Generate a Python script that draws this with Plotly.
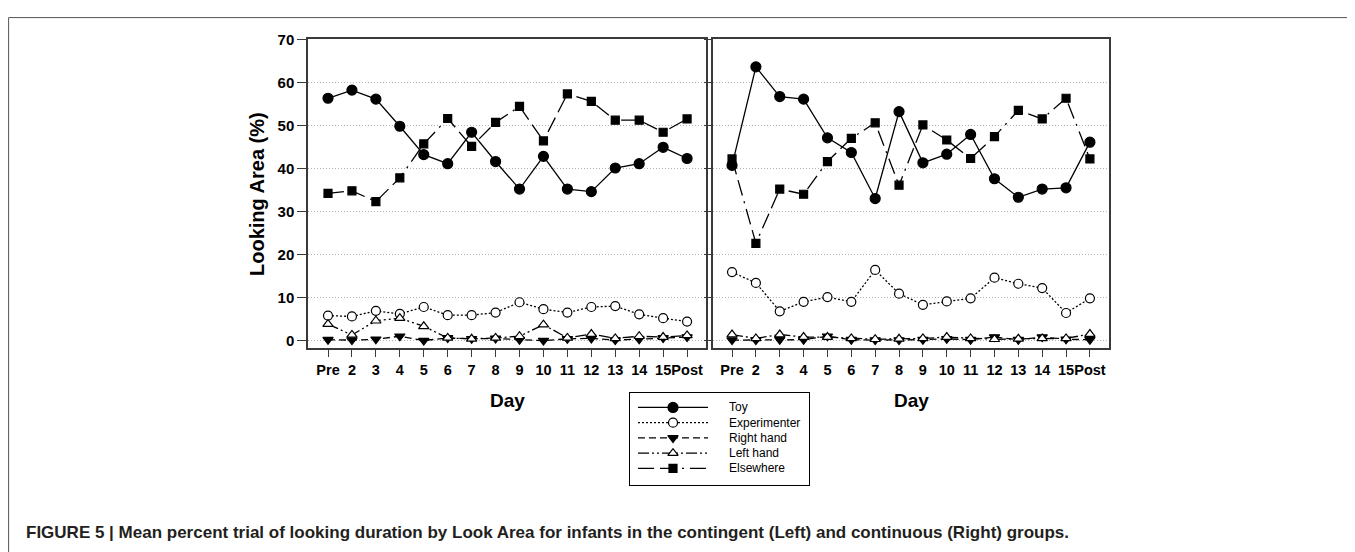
import plotly.graph_objects as go

# The page body has an 8px default margin, so the figure is drawn 8px in from the window edge.
OFF = 8
W, H = 1355 - OFF, 552 - OFF

days = ["Pre", "2", "3", "4", "5", "6", "7", "8", "9", "10", "11", "12", "13", "14", "15", "Post"]

left_toy = [56.3, 58.2, 56.1, 49.8, 43.2, 41.1, 48.4, 41.6, 35.2, 42.8, 35.2, 34.6, 40.1, 41.1, 44.9, 42.3]
left_experimenter = [5.8, 5.6, 6.9, 6.2, 7.8, 5.9, 5.9, 6.5, 8.9, 7.3, 6.5, 7.8, 8.0, 6.1, 5.2, 4.4]
left_right_hand = [0.2, 0.1, 0.3, 1.0, 0.0, 0.6, 0.4, 0.5, 0.2, 0.0, 0.4, 0.5, 0.1, 0.3, 0.6, 0.8]
left_left_hand = [3.8, 1.3, 4.6, 5.2, 3.3, 0.6, 0.4, 0.6, 1.0, 3.7, 0.6, 1.5, 0.5, 1.0, 0.8, 1.2]
left_elsewhere = [34.2, 34.8, 32.3, 37.8, 45.7, 51.6, 45.1, 50.7, 54.4, 46.4, 57.3, 55.6, 51.2, 51.2, 48.4, 51.5]

right_toy = [40.7, 63.6, 56.7, 56.1, 47.1, 43.7, 33.0, 53.2, 41.3, 43.3, 47.9, 37.6, 33.3, 35.2, 35.5, 46.1]
right_experimenter = [15.9, 13.4, 6.8, 9.0, 10.1, 9.0, 16.4, 10.9, 8.3, 9.1, 9.8, 14.6, 13.2, 12.2, 6.4, 9.8]
right_right_hand = [0.1, 0.1, 0.2, 0.2, 1.0, 0.2, 0.1, 0.1, 0.2, 0.4, 0.2, 0.8, 0.2, 0.8, 0.3, 0.2]
right_left_hand = [1.4, 0.5, 1.4, 0.8, 0.8, 0.5, 0.3, 0.4, 0.5, 0.8, 0.5, 0.3, 0.4, 0.5, 0.5, 1.5]
right_elsewhere = [42.2, 22.6, 35.2, 34.0, 41.6, 47.0, 50.6, 36.1, 50.1, 46.6, 42.3, 47.4, 53.5, 51.5, 56.3, 42.2]

series_names = ["Toy", "Experimenter", "Right hand", "Left hand", "Elsewhere"]
y_ticks = [0, 10, 20, 30, 40, 50, 60, 70]

FONT = "Liberation Sans, Arial, Helvetica, sans-serif"
INK = "#000000"
FRAME = "#3a3a3a"

styles = {
    "Toy": dict(dash="solid", symbol="circle", size=10, fill=INK),
    "Experimenter": dict(dash="2px,2px", symbol="circle", size=9, fill="white"),
    "Right hand": dict(dash="7px,4px", symbol="triangle-down", size=9, fill=INK),
    "Left hand": dict(dash="11px,3px,2px,3px,2px,3px", symbol="triangle-up", size=9, fill="white"),
    "Elsewhere": dict(dash="16px,6px,16px,6px,2px,6px", symbol="square", size=8, fill=INK),
}

xs = list(range(len(days)))
fig = go.Figure()

panels = [
    ("x", "y", [left_toy, left_experimenter, left_right_hand, left_left_hand, left_elsewhere]),
    ("x2", "y2", [right_toy, right_experimenter, right_right_hand, right_left_hand, right_elsewhere]),
]
for xa, ya, vals in panels:
    for name, v in zip(series_names, vals):
        s = styles[name]
        fig.add_trace(go.Scatter(
            x=xs, y=v, xaxis=xa, yaxis=ya, mode="lines+markers", name=name,
            showlegend=False, cliponaxis=False,
            line=dict(color=INK, width=1.3, dash=s["dash"]),
            marker=dict(symbol=s["symbol"], size=s["size"], color=s["fill"],
                        line=dict(color=INK, width=1.2)),
        ))

# manual legend box (axes in window-pixel units)
leg_x0, leg_x1, leg_y0, leg_y1 = 630, 809, 390, 484
row_y = [405, 420.5, 436, 451.5, 467]
for name, ry in zip(series_names, row_y):
    s = styles[name]
    fig.add_trace(go.Scatter(
        x=[638, 708], y=[ry, ry], xaxis="x3", yaxis="y3", mode="lines", showlegend=False,
        line=dict(color=INK, width=1.2, dash=s["dash"]),
    ))
    fig.add_trace(go.Scatter(
        x=[673], y=[ry], xaxis="x3", yaxis="y3", mode="markers", showlegend=False,
        marker=dict(symbol=s["symbol"], size=s["size"], color=s["fill"],
                    line=dict(color=INK, width=1.2)),
    ))
    fig.add_annotation(x=727, y=ry, xref="x3", yref="y3", text=name, showarrow=False,
                       xanchor="left", yanchor="middle",
                       font=dict(family=FONT, size=12, color=INK))


def px_x(p):
    return (p - OFF) / W


def px_y(p):
    return 1 - (p - OFF) / H


ydom = [px_y(345), px_y(30.7)]
xrange_l = [-0.836, 15.77]
xrange_r = [-0.81, 15.8]
yrange = [-1.83, 70]

xtickfont = dict(family=FONT, size=14.5, color=INK, weight="bold")
ytickfont = dict(family=FONT, size=15, color=INK, weight="bold")

common_x = dict(tickmode="array", tickvals=xs, ticktext=days, ticks="outside", ticklen=7,
                tickwidth=1.2, tickcolor=FRAME, showline=True, linecolor=FRAME, linewidth=1.5,
                mirror=True, showgrid=False, zeroline=False, tickfont=xtickfont, tickangle=0,
                fixedrange=True)
common_y = dict(tickmode="array", tickvals=y_ticks, range=yrange, ticks="outside",
                tickwidth=1.2, tickcolor=FRAME, showline=True, linecolor=FRAME, linewidth=1.5,
                mirror=True, showgrid=True, gridcolor="#b4b4b4", gridwidth=1, griddash="1px,2px",
                zeroline=False, tickfont=ytickfont, fixedrange=True)

fig.update_layout(
    width=W, height=H, margin=dict(l=0, r=0, t=0, b=0), autosize=False,
    paper_bgcolor="white", plot_bgcolor="white", showlegend=False,
    xaxis=dict(domain=[px_x(308), px_x(705.5)], range=xrange_l, anchor="y", **common_x),
    xaxis2=dict(domain=[px_x(712.7), px_x(1109)], range=xrange_r, anchor="y2", **common_x),
    yaxis=dict(domain=ydom, anchor="x", ticklen=9, showticklabels=True, **common_y),
    yaxis2=dict(domain=ydom, anchor="x2", ticklen=7, showticklabels=False, **common_y),
    xaxis3=dict(domain=[px_x(leg_x0), px_x(leg_x1)], range=[leg_x0, leg_x1], anchor="y3",
                showline=True, mirror=True, linecolor=INK, linewidth=1.2, showgrid=False,
                zeroline=False, showticklabels=False, ticks="", fixedrange=True),
    yaxis3=dict(domain=[px_y(leg_y1), px_y(leg_y0)], range=[leg_y1, leg_y0], anchor="x3",
                showline=True, mirror=True, linecolor=INK, linewidth=1.2, showgrid=False,
                zeroline=False, showticklabels=False, ticks="", fixedrange=True),
)

# axis titles
fig.add_annotation(x=px_x(257), y=px_y(188), xref="paper", yref="paper", text="Looking Area (%)",
                   textangle=-90, showarrow=False, xanchor="center", yanchor="middle",
                   font=dict(family=FONT, size=20, color=INK, weight="bold"))
for cx in (507, 911):
    fig.add_annotation(x=px_x(cx), y=px_y(398), xref="paper", yref="paper", text="Day",
                       showarrow=False, xanchor="center", yanchor="middle",
                       font=dict(family=FONT, size=19, color=INK, weight="bold"))

# caption
fig.add_annotation(x=px_x(24), y=px_y(532), xref="paper", yref="paper",
                   text="FIGURE 5 | Mean percent trial of looking duration by Look Area for infants in the contingent (Left) and continuous (Right) groups.",
                   showarrow=False, xanchor="left", yanchor="middle",
                   font=dict(family=FONT, size=17, color="#231f20", weight="bold"))

# outer frame (left and top edges visible)
fig.add_shape(type="rect", xref="paper", yref="paper", x0=0.6 / W, x1=1.02, y0=-0.02, y1=1 - 0.6 / H,
              line=dict(color="#555555", width=1), fillcolor="rgba(0,0,0,0)", layer="below")

fig.write_html("out.html")
